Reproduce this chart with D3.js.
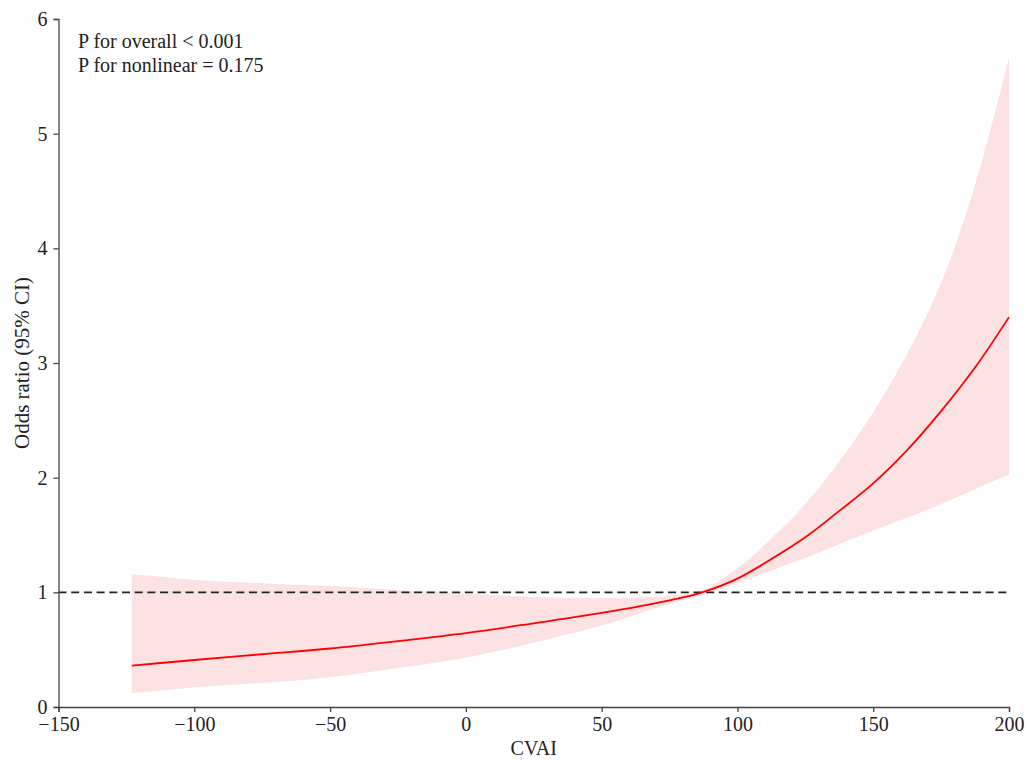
<!DOCTYPE html>
<html>
<head>
<meta charset="utf-8">
<script src="https://cdn.jsdelivr.net/npm/d3@7"></script>
<style>
  body { margin: 0; background: #fff; }
  svg text { font-family: "Liberation Serif", "Times New Roman", serif; fill: #222; }
</style>
</head>
<body>
<div id="chart"></div>
<script>
// CVAI values where the spline was read
let cvai = [-123, -100, -75, -50, -25, 0, 25, 50, 75, 87, 100, 112.5, 125, 137.5, 150, 162.5, 175, 187.5, 200];
// odds ratio and 95% CI bounds
let oddsRatio = [0.36, 0.41, 0.46, 0.51, 0.575, 0.645, 0.73, 0.82, 0.93, 1.00, 1.12, 1.29, 1.48, 1.71, 1.95, 2.24, 2.58, 2.96, 3.40];
let upperCI = [1.16, 1.11, 1.08, 1.055, 1.02, 0.99, 0.96, 0.95, 0.97, 1.02, 1.21, 1.47, 1.77, 2.14, 2.57, 3.08, 3.70, 4.55, 5.66];
let lowerCI = [0.12, 0.17, 0.21, 0.26, 0.34, 0.43, 0.56, 0.71, 0.90, 0.98, 1.08, 1.19, 1.30, 1.42, 1.54, 1.65, 1.77, 1.90, 2.03];

let xTicks = [-150, -100, -50, 0, 50, 100, 150, 200];
let yTicks = [0, 1, 2, 3, 4, 5, 6];
let notes = ["P for overall < 0.001", "P for nonlinear = 0.175"];

let W = 1027, H = 760;
let margin = { top: 19, right: 18, bottom: 53, left: 58.5 };

let svg = d3.select("#chart").append("svg")
    .attr("width", W)
    .attr("height", H);

let x = d3.scaleLinear().domain([-150, 200]).range([margin.left, W - margin.right]);
let y = d3.scaleLinear().domain([0, 6]).range([H - margin.bottom, margin.top]);

let rows = cvai.map((v, i) => ({ x: v, or: oddsRatio[i], lo: lowerCI[i], hi: upperCI[i] }));

// confidence band
svg.append("path")
    .datum(rows)
    .attr("fill", "#fde2e4")
    .attr("d", d3.area()
        .x(d => x(d.x))
        .y0(d => y(d.lo))
        .y1(d => y(d.hi))
        .curve(d3.curveCatmullRom.alpha(0.5)));

// reference line at OR = 1
svg.append("line")
    .attr("x1", x(-150))
    .attr("x2", x(200))
    .attr("y1", y(1))
    .attr("y2", y(1))
    .attr("stroke", "#222")
    .attr("stroke-width", 1.8)
    .attr("stroke-dasharray", "8,4.7");

// spline
svg.append("path")
    .datum(rows)
    .attr("fill", "none")
    .attr("stroke", "#ff0000")
    .attr("stroke-width", 1.8)
    .attr("d", d3.line()
        .x(d => x(d.x))
        .y(d => y(d.or))
        .curve(d3.curveCatmullRom.alpha(0.5)));

// axes
let xAxis = svg.append("g")
    .attr("transform", "translate(0," + (H - margin.bottom) + ")")
    .call(d3.axisBottom(x).tickValues(xTicks).tickSizeOuter(0).tickSize(5).tickPadding(5)
        .tickFormat(d => d3.format("d")(d).replace("-", "\u2212")));

let yAxis = svg.append("g")
    .attr("transform", "translate(" + margin.left + ",0)")
    .call(d3.axisLeft(y).tickValues(yTicks).tickSizeOuter(0).tickSize(5).tickPadding(6)
        .tickFormat(d3.format("d")));

[xAxis, yAxis].forEach(g => {
    g.select(".domain").attr("stroke", "#444").attr("stroke-width", 1.3);
    g.selectAll(".tick line").attr("stroke", "#444").attr("stroke-width", 1.3);
    g.selectAll(".tick text")
        .attr("fill", "#222")
        .style("font-family", "'Liberation Serif', serif")
        .style("font-size", "20px");
});

// axis titles
svg.append("text")
    .attr("x", x(25))
    .attr("y", 755)
    .attr("text-anchor", "middle")
    .style("font-size", "20px")
    .text("CVAI");

svg.append("text")
    .attr("transform", "translate(29," + (margin.top + (H - margin.bottom - margin.top) / 2) + ") rotate(-90)")
    .attr("text-anchor", "middle")
    .style("font-size", "21px")
    .text("Odds ratio (95% CI)");

// p-values
svg.selectAll(".note")
    .data(notes)
    .enter()
    .append("text")
    .attr("class", "note")
    .attr("x", 78)
    .attr("y", (d, i) => 48 + i * 24)
    .style("font-size", "20px")
    .text(d => d);
</script>
</body>
</html>
